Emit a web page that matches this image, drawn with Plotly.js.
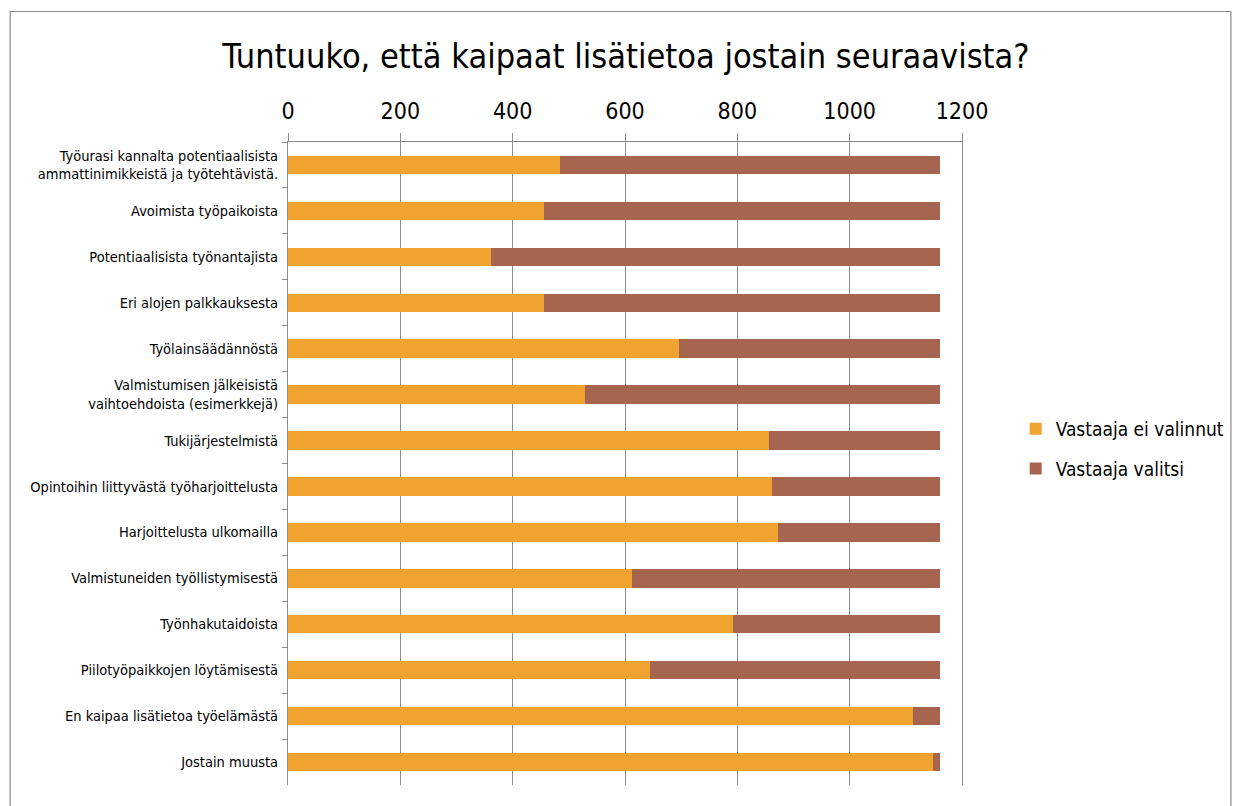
<!DOCTYPE html>
<html>
<head>
<meta charset="utf-8">
<script src="https://cdn.plot.ly/plotly-3.0.1.min.js"></script>
<style>
html,body{margin:0;padding:0;background:#fff;}
#chart{width:1242px;height:806px;}
</style>
</head>
<body>
<div id="chart"></div>
<script>
const categories = [
  "Työurasi kannalta potentiaalisista<br>ammattinimikkeistä ja työtehtävistä.",
  "Avoimista työpaikoista",
  "Potentiaalisista työnantajista",
  "Eri alojen palkkauksesta",
  "Työlainsäädännöstä",
  "Valmistumisen jälkeisistä<br>vaihtoehdoista (esimerkkejä)",
  "Tukijärjestelmistä",
  "Opintoihin liittyvästä työharjoittelusta",
  "Harjoittelusta ulkomailla",
  "Valmistuneiden työllistymisestä",
  "Työnhakutaidoista",
  "Piilotyöpaikkojen löytämisestä",
  "En kaipaa lisätietoa työelämästä",
  "Jostain muusta"
];
const eiValinnut = [485, 456, 362, 455, 697, 529, 857, 862, 873, 612, 793, 645, 1113, 1148];
const valitsi    = [675, 704, 798, 705, 463, 631, 303, 298, 287, 548, 367, 515, 47, 12];
const seriesNames = ["Vastaaja ei valinnut", "Vastaaja valitsi"];
const xTicks = [0, 200, 400, 600, 800, 1000, 1200];

const W = 1242, H = 806;
const m = {l: 288, r: 276, t: 142, b: 21};
const pw = W - m.l - m.r, ph = H - m.t - m.b;
const px = v => (v - m.l) / pw;
const py = v => (H - m.b - v) / ph;

const FONT = "Liberation Sans Narrow, DejaVu Sans Condensed, Arial Narrow, sans-serif";

const traces = [
  {type: 'bar', orientation: 'h', y: categories, x: eiValinnut, name: seriesNames[0],
   legendgroup: 'a', marker: {color: '#F0A32F'}, width: 0.4, hoverinfo: 'x+name'},
  {type: 'bar', orientation: 'h', y: categories, x: valitsi, name: seriesNames[1],
   legendgroup: 'b', marker: {color: '#A6654E'}, width: 0.4, hoverinfo: 'x+name'}
];

const layout = {
  width: W, height: H,
  margin: m,
  paper_bgcolor: '#fff', plot_bgcolor: '#fff',
  font: {family: FONT, color: '#000'},
  barmode: 'stack',
  title: {text: 'Tuntuuko, että kaipaat lisätietoa jostain seuraavista?',
          font: {family: FONT, size: 34, color: '#000'},
          x: 0.504, xref: 'container', xanchor: 'center',
          y: 1 - 56/806, yref: 'container', yanchor: 'middle'},
  xaxis: {side: 'top', range: [0, 1200], tickvals: xTicks, ticktext: xTicks.map(String),
          showgrid: true, gridcolor: '#8c8c8c', gridwidth: 1,
          showline: true, linecolor: '#8c8c8c', linewidth: 1,
          ticks: 'outside', ticklen: 8, tickcolor: '#8c8c8c', ticklabelstandoff: 5,
          zeroline: false, tickfont: {family: FONT, size: 23, color: '#000'}, fixedrange: true},
  yaxis: {type: 'category', autorange: 'reversed',
          showline: true, mirror: true, linecolor: '#8c8c8c', linewidth: 1,
          ticks: 'outside', tickson: 'boundaries', ticklen: 5, tickcolor: '#8c8c8c',
          showgrid: false, zeroline: false,
          tickfont: {family: FONT, size: 14.5, color: '#000'}, ticklabelstandoff: 6, fixedrange: true},
  showlegend: true,
  legend: {x: px(1020), y: py(410), xanchor: 'left', yanchor: 'top',
           traceorder: 'grouped', tracegroupgap: 12,
           font: {family: FONT, size: 19, color: '#000'}, bgcolor: 'rgba(0,0,0,0)'},
  shapes: [
    {type: 'rect', xref: 'paper', yref: 'paper',
     x0: px(8.5), x1: px(1236.5), y0: py(820), y1: py(11.5),
     line: {color: '#8c8c8c', width: 1.2}, fillcolor: 'rgba(0,0,0,0)', layer: 'below'}
  ]
};

Plotly.newPlot('chart', traces, layout, {displayModeBar: false, staticPlot: true});
</script>
</body>
</html>
